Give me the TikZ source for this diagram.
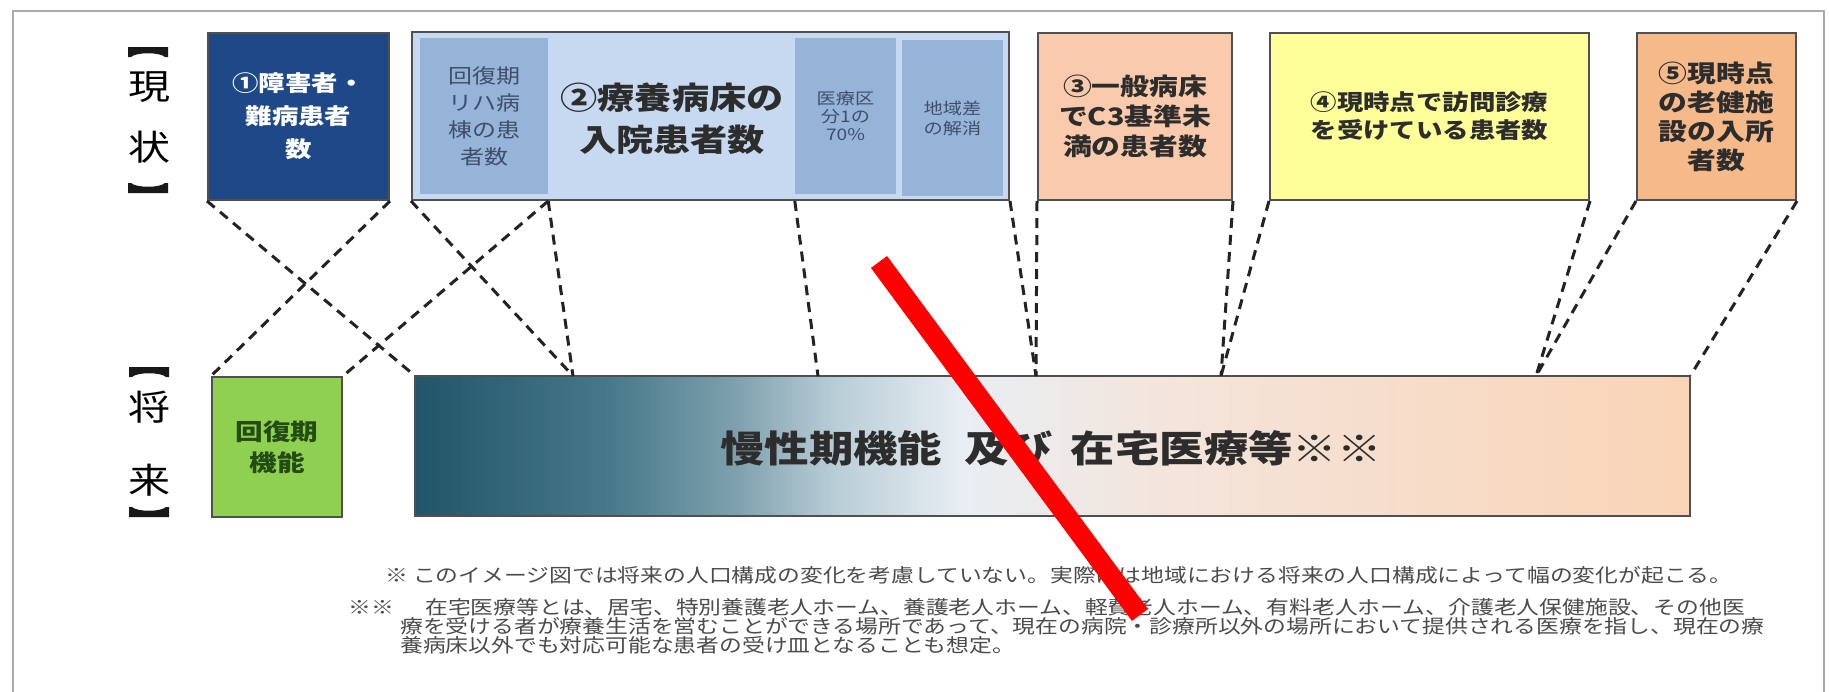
\documentclass[tikz,border=0pt]{standalone}
\usepackage{fontspec}
\setmainfont{Noto Sans CJK JP}[FakeStretch=1.2]
\definecolor{b1c}{RGB}{30,72,135}
\definecolor{b2c}{RGB}{198,217,240}
\definecolor{subc}{RGB}{150,180,215}
\definecolor{b3c}{RGB}{249,203,172}
\definecolor{b4c}{RGB}{255,255,153}
\definecolor{b5c}{RGB}{246,186,138}
\definecolor{gc}{RGB}{143,208,80}
\definecolor{gtext}{RGB}{35,75,20}
\definecolor{bordc}{RGB}{80,80,80}
\definecolor{dashc}{RGB}{35,35,35}
\definecolor{maintext}{RGB}{45,45,45}
\definecolor{subtext}{RGB}{62,78,108}
\definecolor{fntext}{RGB}{75,75,75}
\definecolor{framec}{RGB}{170,170,170}
\definecolor{redc}{RGB}{255,0,0}
\definecolor{brc}{RGB}{25,25,25}
\pgfdeclarehorizontalshading{barshade}{100bp}{%
rgb(0bp)=(0.137,0.333,0.412);
rgb(25bp)=(0.137,0.333,0.412);
rgb(32.5bp)=(0.275,0.471,0.541);
rgb(37.5bp)=(0.490,0.627,0.675);
rgb(41.5bp)=(0.725,0.804,0.843);
rgb(46.5bp)=(0.910,0.933,0.953);
rgb(55bp)=(0.957,0.894,0.855);
rgb(75bp)=(0.980,0.831,0.714);
rgb(100bp)=(0.980,0.831,0.714)}
\tikzset{
  cbox/.style={draw=bordc, line width=2pt, inner sep=0pt, align=center},
  subbox/.style={fill=subc, inner sep=0pt, minimum height=156pt, align=center, text=subtext},
  dl/.style={draw=dashc, line width=3pt, dash pattern=on 10pt off 7pt},
  lab/.style={inner sep=0pt, font=\fontsize{35}{35}\selectfont, text=black},
  fn/.style={inner sep=0pt, anchor=west, font=\fontsize{19}{19}\selectfont, text=fntext},
  brtop/.pic={\fill[brc] (-20,0) -- (20,0) -- (20,10) -- (17,10) .. controls (12,5) and (-12,5) .. (-17,10) -- (-20,10) -- cycle;},
  brbot/.pic={\fill[brc] (-20,0) -- (20,0) -- (20,-10) -- (17,-10) .. controls (12,-5) and (-12,-5) .. (-17,-10) -- (-20,-10) -- cycle;},
}
\begin{document}
\begin{tikzpicture}[x=1pt,y=-1pt]
\useasboundingbox (0,0) rectangle (1829,691);
\fill[white] (0,0) rectangle (1829,691);
\draw[framec, line width=1.5pt] (13,700) -- (13,11) -- (1824,11) -- (1824,700);

% labels
\pic at (148,47) {brtop};
\node[lab] (k2) at (149,87) {現};
\node[lab] (k3) at (149,147) {状};
\pic at (148,193) {brbot};
\pic at (149,367) {brtop};
\node[lab] (m2) at (149,407) {将};
\node[lab] (m3) at (149,480) {来};
\pic at (149,517) {brbot};

% top boxes
\node[cbox, fill=b1c, text=white, minimum width=181pt, minimum height=167pt,
  font=\fontsize{22}{33}\selectfont\bfseries] (b1) at (298.5,116.5) {①障害者・\\難病患者\\数};
\node[cbox, fill=b2c, minimum width=597pt, minimum height=168pt] (b2) at (710.5,116) {};
\node[subbox, minimum width=128pt, font=\fontsize{20}{27}\selectfont] (sL) at (484,116) {回復期\\リハ病\\棟の患\\者数};
\node[subbox, minimum width=101pt, font=\fontsize{16}{18}\selectfont] (sR1) at (845.5,116) {医療区\\分1の\\70\%};
\node[subbox, minimum width=101pt, font=\fontsize{16}{20}\selectfont] (sR2) at (952.5,118) {地域差\\の解消};
\node[inner sep=0pt, align=center, text=maintext, font=\fontsize{31}{42}\selectfont\bfseries] (b2t) at (672,119) {②療養病床の\\入院患者数};
\node[cbox, fill=b3c, text=maintext, minimum width=194pt, minimum height=167pt,
  font=\fontsize{24}{30}\selectfont\bfseries] (b3) at (1135,116.5) {③一般病床\\でC3基準未\\満の患者数};
\node[cbox, fill=b4c, text=maintext, minimum width=319pt, minimum height=167pt,
  font=\fontsize{22}{28}\selectfont\bfseries] (b4) at (1429.5,116.5) {④現時点で訪問診療\\を受けている患者数};
\node[cbox, fill=b5c, text=maintext, minimum width=159pt, minimum height=167pt,
  font=\fontsize{24}{29}\selectfont\bfseries] (b5) at (1716.5,116.5) {⑤現時点\\の老健施\\設の入所\\者数};

% bottom boxes
\node[cbox, fill=gc, text=gtext, minimum width=130pt, minimum height=140pt,
  font=\fontsize{23}{31}\selectfont\bfseries] (g) at (277,447) {回復期\\機能};
\node[draw=bordc, line width=1.5pt, shade, shading=barshade, inner sep=0pt,
  minimum width=1275pt, minimum height=140pt] (bar) at (1052.5,446) {};
\node[inner sep=0pt, text=maintext, font=\fontsize{37}{40}\selectfont\bfseries] (bart) at (1051,448)
  {慢性期機能\hspace{22pt}及び\hspace{18pt}在宅医療等※※};

% coordinates on the bar top
\coordinate (t1) at (573,376);
\coordinate (t2) at (818,376);
\coordinate (t3) at (1036,376);
\coordinate (t4) at (1221,376);
\coordinate (t5) at (1536,376);

% dashed connectors
\draw[dl] (b1.south west) -- (bar.north west);
\draw[dl] (b1.south east) -- (g.north west);
\draw[dl] (b2.south west) -- (t1);
\draw[dl] (sL.south east |- b2.south) -- (g.north east);
\draw[dl] (sL.south east |- b2.south) -- (t1);
\draw[dl] (sR1.south west |- b2.south) -- (t2);
\draw[dl] (b2.south east) -- (t3);
\draw[dl] (b3.south west) -- (t3);
\draw[dl] (b3.south east) -- (t4);
\draw[dl] (b4.south west) -- (t4);
\draw[dl] (b4.south east) -- (t5);
\draw[dl] (b5.south west) -- (t5);
\draw[dl] (b5.south east) -- (bar.north east);

% footnotes
\node[fn] (f1) at (385,575) {※ このイメージ図では将来の人口構成の変化を考慮していない。実際には地域における将来の人口構成によって幅の変化が起こる。};
\node[fn] (f2a) at (348,607) {※※};
\node[fn] (f2) at (425,607) {在宅医療等とは、居宅、特別養護老人ホーム、養護老人ホーム、軽費老人ホーム、有料老人ホーム、介護老人保健施設、その他医};
\node[fn] (f3) at (400,626) {療を受ける者が療養生活を営むことができる場所であって、現在の病院・診療所以外の場所において提供される医療を指し、現在の療};
\node[fn] (f4) at (400,645) {養病床以外でも対応可能な患者の受け皿となることも想定。};

% red overlay stroke
\coordinate (r1) at (879,262);
\coordinate (r2) at (1140,615);
\draw[redc, line width=20pt] (r1) -- (r2);
\end{tikzpicture}
\end{document}
